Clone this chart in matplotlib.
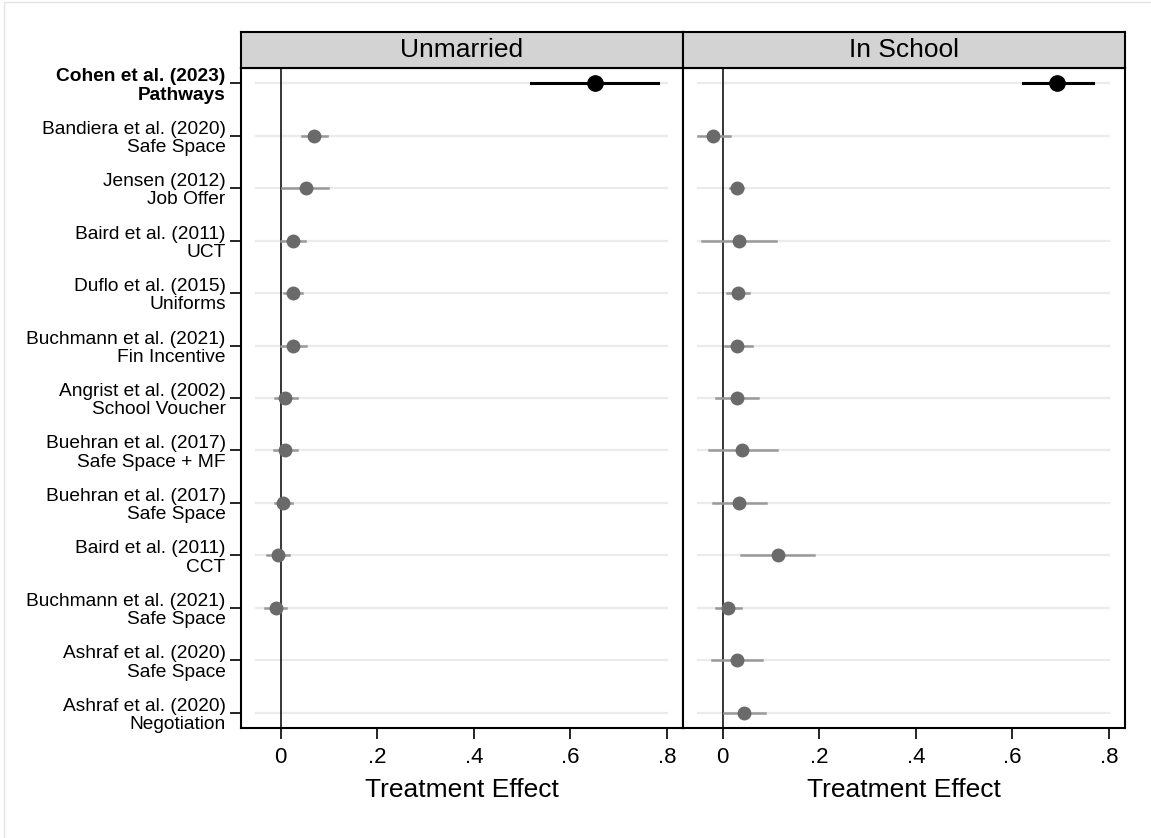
import numpy as np
import matplotlib
matplotlib.use("Agg")
import matplotlib.pyplot as plt
from matplotlib.patches import Rectangle

plt.rcParams['font.family'] = ['Liberation Sans', 'DejaVu Sans']

# study labels, top to bottom
studies = ["Cohen et al. (2023)\nPathways",
           "Bandiera et al. (2020)\nSafe Space",
           "Jensen (2012)\nJob Offer",
           "Baird et al. (2011)\nUCT",
           "Duflo et al. (2015)\nUniforms",
           "Buchmann et al. (2021)\nFin Incentive",
           "Angrist et al. (2002)\nSchool Voucher",
           "Buehran et al. (2017)\nSafe Space + MF",
           "Buehran et al. (2017)\nSafe Space",
           "Baird et al. (2011)\nCCT",
           "Buchmann et al. (2021)\nSafe Space",
           "Ashraf et al. (2020)\nSafe Space",
           "Ashraf et al. (2020)\nNegotiation"]

panels = ["Unmarried", "In School"]

# unmarried estimates (nan = not reported)
unmarried_est = [0.651, 0.070, 0.052, 0.026, 0.026, 0.025, 0.010, 0.009, 0.005, -0.006, -0.010, np.nan, np.nan]
unmarried_lo = [0.519, 0.045, 0.002, 0.000, 0.008, 0.000, -0.011, -0.014, -0.012, -0.029, -0.032, np.nan, np.nan]
unmarried_hi = [0.782, 0.095, 0.099, 0.050, 0.045, 0.052, 0.033, 0.033, 0.023, 0.017, 0.012, np.nan, np.nan]

# in school estimates
school_est = [0.693, -0.019, 0.029, 0.033, 0.031, 0.030, 0.029, 0.041, 0.034, 0.114, 0.012, 0.030, 0.045]
school_lo = [0.621, -0.050, 0.015, -0.043, 0.009, 0.004, -0.013, -0.029, -0.020, 0.038, -0.013, -0.023, 0.002]
school_hi = [0.766, 0.015, 0.043, 0.110, 0.055, 0.060, 0.073, 0.112, 0.090, 0.190, 0.038, 0.082, 0.088]

xticks = [0, 0.2, 0.4, 0.6, 0.8]
xticklabels = ["0", ".2", ".4", ".6", ".8"]

W, H = 1151, 838
fig = plt.figure(figsize=(W / 100, H / 100), dpi=100)

# faint outer frame
fig.patches.append(Rectangle((4 / W, -0.1), 1.2, (H - 2) / H + 0.1, transform=fig.transFigure,
                             fill=False, edgecolor='#e4e4e4', linewidth=1.0))


def px(x0, y0, x1, y1):
    return [x0 / W, 1 - y1 / H, (x1 - x0) / W, (y1 - y0) / H]


data = [(unmarried_est, unmarried_lo, unmarried_hi),
        (school_est, school_lo, school_hi)]
lefts = [241, 683]
rights = [683, 1125]

n = len(studies)
ypos = np.arange(n)

for i, panel in enumerate(panels):
    est, lo, hi = data[i]
    ax = fig.add_axes(px(lefts[i], 68, rights[i], 728))
    hd = fig.add_axes(px(lefts[i], 32, rights[i], 68))

    # header strip
    hd.set_facecolor('#d3d3d3')
    hd.set_xticks([])
    hd.set_yticks([])
    for s in hd.spines.values():
        s.set_linewidth(1.5)
    hd.text(0.5, 0.5, panel, ha='center', va='center', fontsize=19, transform=hd.transAxes)

    # background row lines
    for y in ypos:
        ax.plot([-0.05, 0.8], [y, y], color='#ebebeb', lw=1.6, zorder=1)
    ax.axvline(0, color='black', lw=1.1, zorder=2)

    for j in range(n):
        if np.isnan(est[j]):
            continue
        if j == 0:
            ax.plot([lo[j], hi[j]], [j, j], color='black', lw=2.2, zorder=3)
            ax.plot(est[j], j, 'o', color='black', ms=11, zorder=4)
        else:
            ax.plot([lo[j], hi[j]], [j, j], color='#999999', lw=1.8, zorder=3)
            ax.plot(est[j], j, 'o', color='#6a6a6a', ms=9, zorder=4)

    ax.set_xlim(-0.082, 0.833)
    ax.set_ylim(n - 1 + 0.29, -0.29)
    ax.set_xticks(xticks)
    ax.set_xticklabels(xticklabels, fontsize=16)
    ax.tick_params(axis='x', length=8, width=1.2, pad=6)
    ax.set_xlabel("Treatment Effect", fontsize=19, labelpad=7)
    for s in ax.spines.values():
        s.set_linewidth(1.5)

    if i == 0:
        ax.set_yticks(ypos)
        ax.set_yticklabels(studies, fontsize=13.8, linespacing=1.1, ha='right')
        ax.tick_params(axis='y', length=8, width=1.2, pad=3)
        ax.get_yticklabels()[0].set_fontweight('bold')
    else:
        ax.set_yticks([])

fig.savefig("out.png", dpi=100)
